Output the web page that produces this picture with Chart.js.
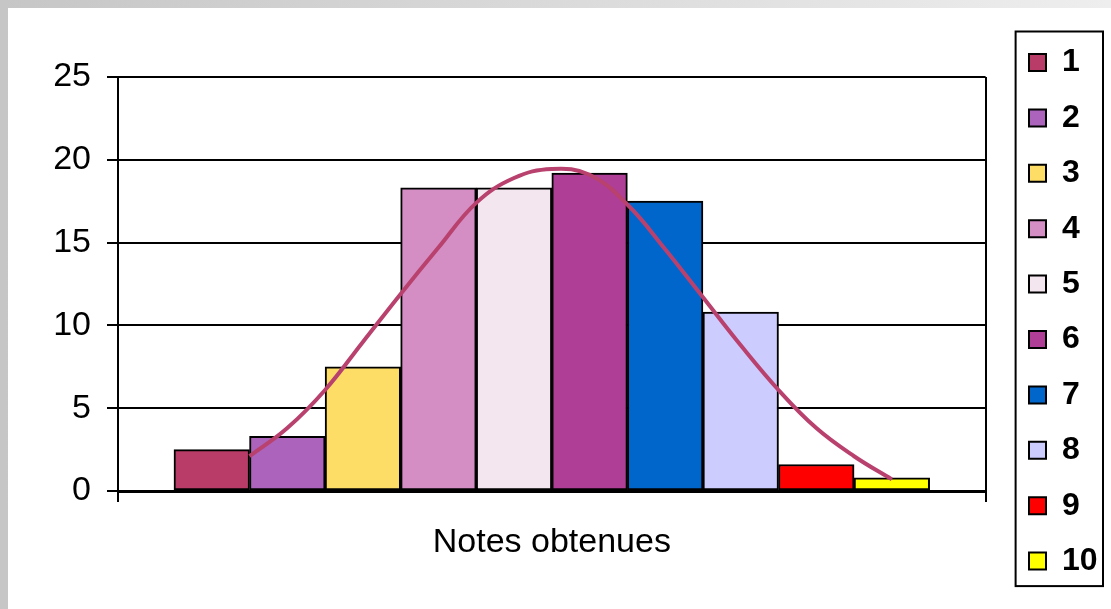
<!DOCTYPE html>
<html>
<head>
<meta charset="utf-8">
<script src="https://cdn.jsdelivr.net/npm/chart.js@4.4.1/dist/chart.umd.min.js"></script>
<style>
  html, body { margin: 0; padding: 0; }
  body {
    width: 1111px; height: 609px; overflow: hidden; position: relative;
    background: linear-gradient(to right, #c6c6c6, #eeeeee);
  }
  #wrap {
    position: absolute; left: 8px; top: 8px;
    width: 1103px; height: 601px; background: #fff;
  }
</style>
</head>
<body>
<div id="wrap"><canvas id="chart" width="1103" height="601"></canvas></div>
<script>
// one category, ten series (one bar each)
const categories = ['Notes obtenues'];
const seriesNames = ['1', '2', '3', '4', '5', '6', '7', '8', '9', '10'];
const seriesValues = [2.5, 3.3, 7.5, 18.3, 18.3, 19.2, 17.5, 10.8, 1.6, 0.8];
const seriesColors = ['#b83c67', '#ab63bb', '#fddd66', '#d48ec4', '#f3e6ee',
                      '#af3e96', '#0066cc', '#ccccff', '#ff0000', '#ffff00'];

// fitted curve, x = series position (1..10)
const curveX = [1.5, 2, 2.5, 3, 3.5, 4, 4.5, 5, 5.5, 6, 6.5, 7, 7.5, 8, 8.5, 9, 9.5, 10];
const curveY = [2.1, 3.8, 6.1, 9.0, 11.9, 14.7, 17.4, 18.9, 19.45, 19.1, 17.3, 14.6, 11.7, 8.8, 6.1, 3.8, 2.1, 0.7];

const yTicks = [0, 5, 10, 15, 20, 25];

// the ten bars fill this share of the category width
const CAT_PCT = 0.871;
const sideGap = (seriesNames.length / CAT_PCT - seriesNames.length) / 2;
const positions = seriesNames.map((n, i) => i + 1);

Chart.defaults.font.family = '"Liberation Sans", Arial, sans-serif';
Chart.defaults.color = '#000';

const datasets = seriesNames.map((name, i) => ({
  type: 'bar',
  label: name,
  data: [{ x: positions[i], y: seriesValues[i] }],
  backgroundColor: seriesColors[i],
  borderColor: '#000',
  borderWidth: 2,
  borderSkipped: false,
  xAxisID: 'xn',
  yAxisID: 'y',
  grouped: false,
  categoryPercentage: 1,
  barPercentage: 1,
  order: 1
}));
datasets.push({
  type: 'line',
  label: 'courbe',
  data: curveX.map((x, i) => ({ x: x, y: curveY[i] })),
  xAxisID: 'xn',
  yAxisID: 'y',
  borderColor: '#b9416e',
  borderWidth: 4,
  pointRadius: 0,
  fill: false,
  tension: 0.4,
  order: 0
});

// frame around the legend
const legendFrame = {
  id: 'legendFrame',
  afterDraw(chart) {
    const lg = chart.legend;
    const hb = lg.legendHitBoxes;
    if (!hb || !hb.length) return;
    const first = hb[0], last = hb[hb.length - 1];
    const left = lg.left + 10;
    const right = lg.right - 4.6;
    const top = first.top - 15;
    const bottom = last.top + last.height + 9;
    const ctx = chart.ctx;
    ctx.save();
    ctx.strokeStyle = '#000';
    ctx.lineWidth = 2;
    ctx.strokeRect(left, top, right - left, bottom - top);
    ctx.restore();
  }
};

new Chart(document.getElementById('chart'), {
  type: 'bar',
  data: { labels: categories, datasets: datasets },
  options: {
    responsive: false,
    animation: false,
    layout: { padding: { left: 45, right: 3.4, top: 6.6, bottom: 0 } },
    plugins: {
      title: { display: true, text: '', font: { size: 10, lineHeight: 1 }, padding: { top: 52.4, bottom: 0 } },
      tooltip: { enabled: false },
      legend: {
        position: 'right',
        labels: {
          font: { size: 32, weight: 'bold' },
          boxWidth: 17,
          boxHeight: 17,
          padding: 23.4,
          filter: item => item.datasetIndex < seriesNames.length
        }
      }
    },
    scales: {
      // category axis: label and the two boundary ticks
      x: {
        type: 'category',
        offset: true,
        grid: { display: true, offset: true, color: '#000', lineWidth: 2, tickLength: 11, drawOnChartArea: true },
        border: { display: true, color: '#000', width: 3 },
        ticks: { font: { size: 34 }, padding: 20.6, maxRotation: 0 },
        afterFit(s) { s.height = 118; }
      },
      // series positions inside the category
      xn: {
        type: 'linear',
        display: false,
        offset: false,
        min: 0.5 - sideGap,
        max: seriesNames.length + 0.5 + sideGap,
        afterBuildTicks(s) { s.ticks = positions.map(v => ({ value: v })); }
      },
      y: {
        type: 'linear',
        position: 'left',
        min: 0,
        max: 25,
        afterBuildTicks(s) { s.ticks = yTicks.map(v => ({ value: v })); },
        grid: { color: '#000', lineWidth: 2, tickLength: 11, drawTicks: true },
        border: { display: true, color: '#000', width: 2 },
        ticks: { font: { size: 34 }, padding: 16 },
        afterFit(s) { s.width = 65; }
      },
      y2: {
        type: 'linear',
        position: 'right',
        display: true,
        grid: { display: false, drawTicks: false },
        border: { display: false },
        ticks: { display: false },
        afterFit(s) { s.width = 20; }
      }
    }
  },
  plugins: [legendFrame]
});
</script>
</body>
</html>
